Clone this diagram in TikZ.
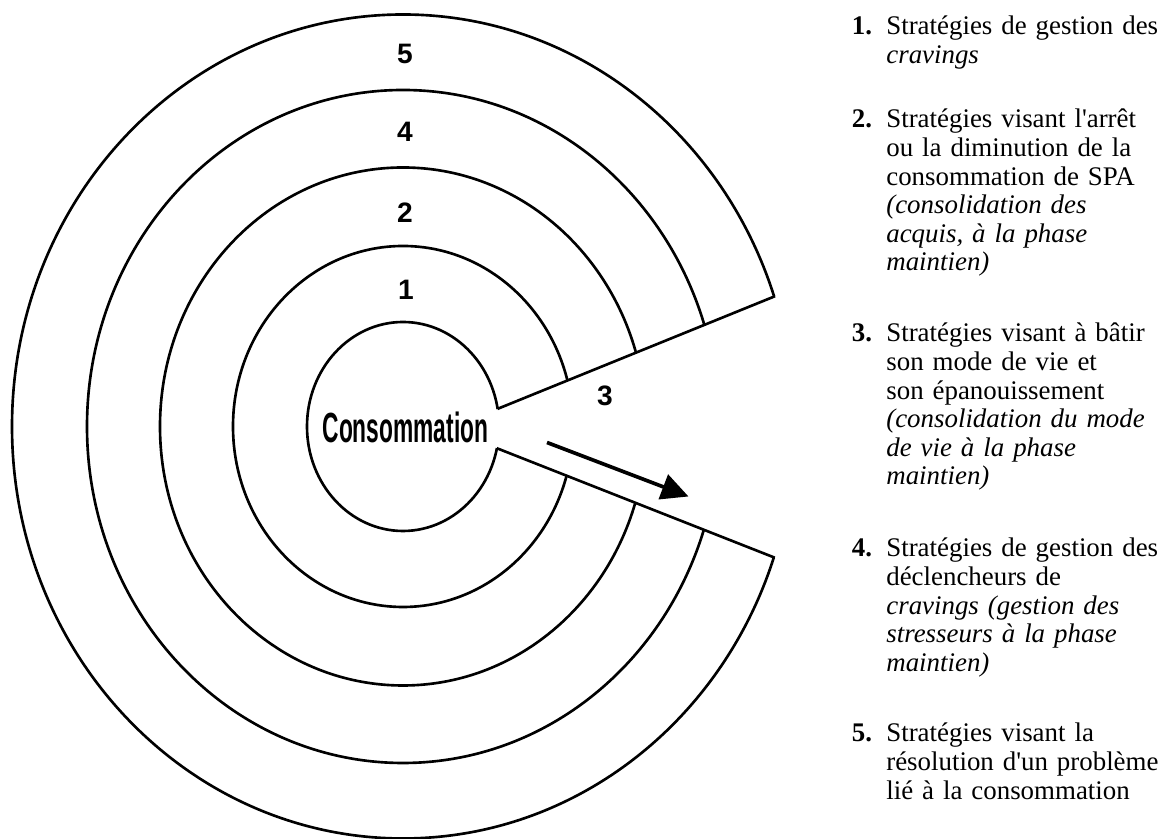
\documentclass[tikz,border=0pt]{standalone}
\usepackage{fontspec}
\newfontfamily\legendfont{Liberation Serif}
\newfontfamily\ringfont{Liberation Sans}
\usetikzlibrary{arrows.meta,calc}

\begin{document}
\begin{tikzpicture}[line join=miter]
\tikzstyle{ring}=[line width=1.5pt]
\tikzstyle{ringnum}=[font=\ringfont\bfseries\fontsize{16}{16}\selectfont, inner sep=0pt]
\tikzstyle{itemnum}=[anchor=base west, inner sep=0pt, font=\legendfont\bfseries\fontsize{15.3}{16.25}\selectfont]
\tikzstyle{itemtext}=[anchor=base west, inner sep=0pt, align=left, text width=6cm, font=\legendfont\fontsize{15.3}{16.25}\selectfont]
\useasboundingbox (0,0) rectangle (23.4,16.78);
\coordinate (O) at (8.06,8.25);
\coordinate (M) at (8.96,8.20);
\coordinate (MU) at ($(M)+(22.1:9)$);
\coordinate (ML) at ($(M)+(-21.5:9)$);
\begin{scope}[even odd rule]
  \clip (-1,-1) rectangle (25,18) (M) -- (MU) -- (ML) -- cycle;
  \foreach \rx/\ry in {1.92/2.09,3.40/3.61,4.86/5.18,6.32/6.73,7.82/8.24}
    \draw[ring] (O) ellipse [x radius=\rx, y radius=\ry];
\end{scope}
\begin{scope}[even odd rule]
  \clip (O) ellipse [x radius=7.84, y radius=8.26] (O) ellipse [x radius=1.92, y radius=2.09];
  \draw[ring] (M) -- (MU);
  \draw[ring] (M) -- (ML);
\end{scope}
\node[font=\ringfont\bfseries\fontsize{24}{24}\selectfont, xscale=0.54] (cons) at (8.11,8.24) {Consommation};
\node[ringnum] (r5) at (8.10,15.70) {5};
\node[ringnum] (r4) at (8.10,14.14) {4};
\node[ringnum] (r2) at (8.10,12.52) {2};
\node[ringnum] (r1) at (8.12,10.98) {1};
\node[ringnum] (r3) at (12.10,8.86) {3};
\coordinate (A1) at (10.94,7.93);
\coordinate (A2) at (13.77,6.85);
\draw[line width=2.1pt, -{Triangle[length=0.54cm,width=0.52cm]}] (A1) -- (A2);
\foreach \n/\y in {1/16.08,2/14.22,3/9.94,4/5.64,5/1.94}
  \node[itemnum] (num\n) at (17.03,\y) {\n.};
\node[itemtext] (item1) at (17.72,16.08) {Stratégies de gestion des\\ \textit{cravings}};
\node[itemtext] (item2) at (17.72,14.22) {Stratégies visant l'arrêt\\ ou la diminution de la\\ consommation de SPA\\ \textit{(consolidation des}\\ \textit{acquis, à la phase}\\ \textit{maintien)}};
\node[itemtext] (item3) at (17.72,9.94) {Stratégies visant à bâtir\\ son mode de vie et\\ son épanouissement\\ \textit{(consolidation du mode}\\ \textit{de vie à la phase}\\ \textit{maintien)}};
\node[itemtext] (item4) at (17.72,5.64) {Stratégies de gestion des\\ déclencheurs de\\ \textit{cravings (gestion des}\\ \textit{stresseurs à la phase}\\ \textit{maintien)}};
\node[itemtext] (item5) at (17.72,1.94) {Stratégies visant la\\ résolution d'un problème\\ lié à la consommation};
\end{tikzpicture}
\end{document}
